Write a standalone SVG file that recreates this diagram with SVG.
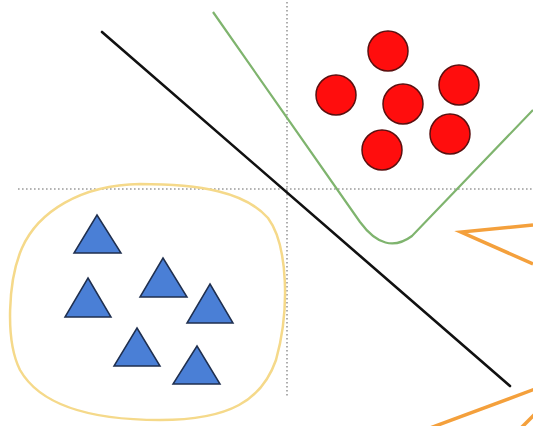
<svg xmlns="http://www.w3.org/2000/svg" width="533" height="426" viewBox="0 0 533 426">
<style>
.axis{stroke:#9a9a9a;stroke-width:1.6;stroke-dasharray:1.6 2.4;fill:none}
.circ{fill:#ff0d0d;stroke:#5a1010;stroke-width:1.5}
.tri{fill:#4a7fd6;stroke:#1f2f4f;stroke-width:1.5;stroke-linejoin:miter}
.orange{stroke:#f4a03c;stroke-width:3.5;fill:none}
</style>
<rect width="533" height="426" fill="#ffffff"/>
<g id="axes">
<line class="axis" x1="18" y1="189" x2="533" y2="189"/>
<line class="axis" x1="287" y1="2" x2="287" y2="396"/>
</g>
<g id="yellow-boundary">
<path d="M140 184 C200 184 245 192 268 218 C288 245 290 310 276 360 C262 400 230 420 160 420 C90 420 40 405 20 370 C5 340 8 280 22 248 C38 212 80 185 140 184 Z" fill="none" stroke="#f5d98a" stroke-width="2.5"/>
</g>
<g id="green-boundary">
<path d="M213 12 L360 222 Q385 256 412 236 L533 110" fill="none" stroke="#7fb46e" stroke-width="2.2"/>
</g>
<g id="black-line">
<line x1="102" y1="32" x2="510" y2="386" stroke="#111111" stroke-width="2.6" stroke-linecap="round"/>
</g>
<g id="circles">
<circle class="circ" cx="388" cy="51" r="20"/>
<circle class="circ" cx="336" cy="95" r="20"/>
<circle class="circ" cx="403" cy="104" r="20"/>
<circle class="circ" cx="459" cy="85" r="20"/>
<circle class="circ" cx="450" cy="134" r="20"/>
<circle class="circ" cx="382" cy="150" r="20"/>
</g>
<g id="triangles">
<polygon class="tri" points="97,215 121,253 74,253"/>
<polygon class="tri" points="163,258 187,297 140,297"/>
<polygon class="tri" points="88,278 111,317 65,317"/>
<polygon class="tri" points="210,284 233,323 187,323"/>
<polygon class="tri" points="137,328 160,366 114,366"/>
<polygon class="tri" points="197,346 220,384 173,384"/>
</g>
<g id="orange-shapes">
<polyline class="orange" points="533,225 461,232 533,264"/>
<line class="orange" x1="430" y1="428" x2="535" y2="389"/>
<line class="orange" x1="521" y1="428" x2="535" y2="414"/>
</g>
</svg>
